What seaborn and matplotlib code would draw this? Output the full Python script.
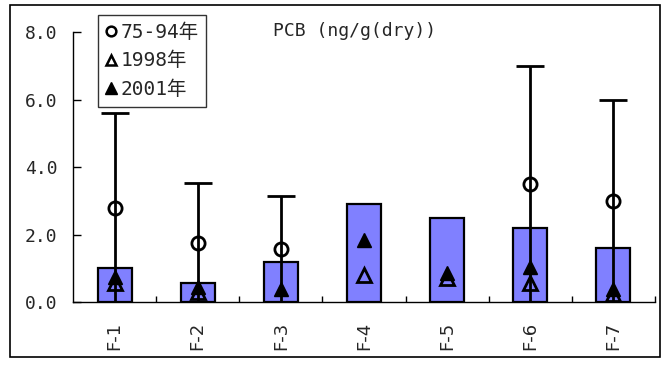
import numpy as np
import pandas as pd
import matplotlib
matplotlib.use("Agg")
import matplotlib.pyplot as plt
import seaborn as sns
from matplotlib.lines import Line2D
from matplotlib.patches import Rectangle

sites = ["F-1", "F-2", "F-3", "F-4", "F-5", "F-6", "F-7"]
bar_vals = [1.0, 0.56, 1.2, 2.9, 2.5, 2.2, 1.6]
mean_7594 = [2.8, 1.75, 1.57, np.nan, np.nan, 3.5, 3.0]
upper_7594 = [5.6, 3.52, 3.14, np.nan, np.nan, 7.0, 6.0]
y1998 = [0.55, 0.3, np.nan, 0.8, 0.7, 0.55, 0.25]
y2001 = [0.75, 0.45, 0.4, 1.85, 0.85, 1.05, 0.4]
yticks = [0.0, 2.0, 4.0, 6.0, 8.0]

sns.set_style("white")
plt.rcParams['font.family'] = ['DejaVu Sans Mono', 'Noto Sans CJK JP']

fig = plt.figure(figsize=(6.66, 3.67), dpi=100)
ax = fig.add_axes([0.1096, 0.177, 0.8739, 0.7358])

df = pd.DataFrame({"site": sites, "val": bar_vals})
sns.barplot(data=df, x="site", y="val", ax=ax, color="#8080FF", saturation=1,
            width=0.41, edgecolor="black", linewidth=1.6)

x = np.arange(len(sites))
m = np.array(mean_7594)
up = np.array(upper_7594)
ok = ~np.isnan(m)
ax.errorbar(x[ok], m[ok], yerr=[m[ok], up[ok] - m[ok]], fmt='none',
            ecolor='black', elinewidth=2, capsize=10, capthick=2, zorder=3)
ax.plot(x[ok], m[ok], 'o', ms=9.5, mfc='none', mec='black', mew=2, zorder=4)
ax.plot(x, y1998, '^', ms=10, mfc='none', mec='black', mew=2, zorder=4, linestyle='none')
ax.plot(x, y2001, '^', ms=10, mfc='black', mec='black', mew=1, zorder=5, linestyle='none')

ax.set_ylim(0, 8)
ax.set_xlim(-0.5, len(sites) - 0.5)
ax.set_yticks(yticks)
ax.set_yticklabels([f"{v:.1f}" for v in yticks], family='DejaVu Sans Mono', fontsize=13)
ax.set_xticks(x)
ax.set_xticklabels(sites, rotation=90, family='DejaVu Sans', fontsize=13)
ax.set_xlabel("")
ax.set_ylabel("")
for s in ['top', 'right']:
    ax.spines[s].set_visible(False)
for s in ['left', 'bottom']:
    ax.spines[s].set_color('black')
    ax.spines[s].set_linewidth(1)

ax.text(0.344, 1.004, "PCB (ng/g(dry))", transform=ax.transAxes, ha='left', va='center',
        family='DejaVu Sans Mono', fontsize=13)

handles = [
    Line2D([], [], marker='o', ls='none', ms=7, mfc='none', mec='black', mew=1.8),
    Line2D([], [], marker='^', ls='none', ms=7.5, mfc='none', mec='black', mew=1.8),
    Line2D([], [], marker='^', ls='none', ms=8, mfc='black', mec='black'),
]
leg = ax.legend(handles, ["75-94年", "1998年", "2001年"], loc='upper left',
                bbox_to_anchor=(0.043, 1.063), frameon=True, fancybox=False,
                edgecolor='black', handlelength=0.5, handletextpad=0.25,
                borderpad=0.4, labelspacing=0.5, prop={'family': ['DejaVu Sans Mono', 'Noto Sans CJK JP'], 'size': 14},
                borderaxespad=0)
leg.get_frame().set_linewidth(1)
leg.set_zorder(10)

# category boundary ticks on the x axis (pointing inward)
ax.vlines(np.arange(len(sites)) + 0.5, 0, 0.022, transform=ax.get_xaxis_transform(),
          colors='black', linewidth=1, clip_on=False, zorder=6)
ax.tick_params(axis='x', which='major', length=0, pad=14, bottom=False)
ax.tick_params(axis='y', which='major', direction='in', length=6, width=1, color='black', left=True, pad=11)

fig.patches.append(Rectangle((10/666, 1 - 357/367), 650/666, 352/367, transform=fig.transFigure,
                             fill=False, edgecolor='black', linewidth=1.2))

fig.savefig("out.png", dpi=100)
